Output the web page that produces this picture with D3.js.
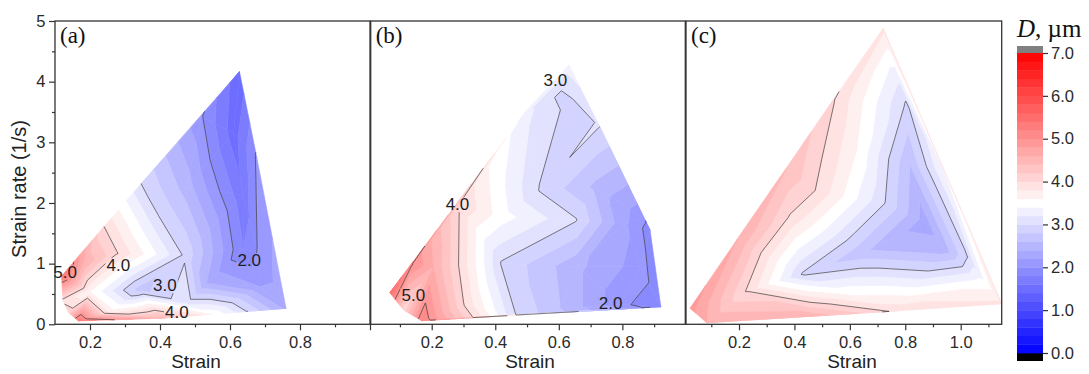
<!DOCTYPE html>
<html>
<head>
<meta charset="utf-8">
<script src="https://cdn.jsdelivr.net/npm/d3@7"></script>
<style>
  body { margin: 0; background: #fff; }
  svg { display: block; }
</style>
</head>
<body>
<svg id="chart" width="1089" height="374"></svg>
<script>
// ---- (a) grain size D (µm) at sampled (strain, strain-rate) positions ----
const strainA = [0.119, 0.238, 0.343, 0.519, 0.627, 0.676, 0.760, 0.552, 0.400, 0.167, 0.138, 0.122,
                 0.271, 0.638, 0.681, 0.610, 0.476, 0.343, 0.533, 0.200, 0.324, 0.476, 0.181, 0.257, 0.686,
                 0.637, 0.400, 0.469];
const rateA   = [0.797, 1.599, 2.297, 3.423, 4.165, 2.764, 0.264, 0.170, 0.099, 0.055, 0.198, 0.401,
                 1.170, 1.253, 1.170, 3.148, 2.269, 0.577, 0.676, 0.538, 0.319, 0.346, 1.005, 0.209, 0.621,
                 2.132, 1.802, 1.142];
const sizeA   = [5.40, 4.02, 3.02, 2.02, 1.45, 2.03, 2.35, 3.55, 4.50, 5.40, 4.10, 3.95,
                 4.05, 1.80, 2.03, 1.50, 2.50, 2.70, 2.40, 3.60, 3.45, 3.15, 4.60, 3.70, 2.20,
                 1.65, 2.97, 2.97];

// ---- (b) ----
const strainB = [0.068, 0.137, 0.284, 0.379, 0.632, 0.726, 0.868, 0.887, 0.921, 0.468, 0.168, 0.111,
                 0.500, 0.647, 0.430, 0.542, 0.716, 0.416, 0.653, 0.805, 0.205, 0.421, 0.658, 0.858,
                 0.308, 0.605, 0.795, 0.604];
const rateB   = [0.522, 0.978, 1.967, 2.599, 4.275, 3.286, 1.747, 1.555, 0.291, 0.154, 0.060, 0.236,
                 3.533, 3.533, 2.269, 2.214, 2.269, 1.775, 1.720, 1.665, 0.951, 1.005, 0.951, 0.951,
                 0.319, 0.264, 0.335, 3.780];
const sizeB   = [5.60, 5.02, 4.02, 3.60, 3.30, 3.02, 2.05, 1.90, 1.85, 2.98, 5.20, 4.05,
                 3.25, 2.90, 3.40, 2.98, 2.55, 3.50, 3.02, 2.25, 4.60, 2.97, 2.45, 2.10,
                 3.95, 2.60, 2.05, 2.95];

// ---- (c) ----
const strainC = [0.023, 0.720, 1.148, 0.083, 0.769, 0.540, 0.372, 0.192, 0.936,
                 0.805, 0.733, 0.431, 1.021, 0.871, 0.817, 0.673, 0.943,
                 0.625, 0.480, 0.384, 0.228, 0.588, 1.070, 0.468, 0.738];
const rateC   = [0.264, 4.879, 0.335, 0.027, 0.220, 3.698, 2.571, 1.390, 2.577,
                 3.635, 1.983, 0.829, 1.126, 1.687, 2.627, 1.225, 1.225,
                 2.874, 2.187, 1.775, 0.555, 0.511, 0.676, 0.137, 4.324];
const sizeC   = [4.90, 3.85, 3.85, 4.60, 3.95, 4.02, 4.40, 4.60, 3.40,
                 2.97, 2.97, 2.97, 2.97, 2.30, 2.60, 2.60, 2.50,
                 3.60, 3.98, 3.98, 3.98, 3.55, 3.50, 4.50, 3.45];

// contour labels
const labStrainA = [0.129, 0.281, 0.414, 0.655, 0.448];
const labRateA   = [0.868, 0.978, 0.648, 1.060, 0.209];
const labTextA   = ["5.0", "4.0", "3.0", "2.0", "4.0"];
const labStrainB = [0.589, 0.281, 0.142, 0.763];
const labRateB   = [4.030, 1.980, 0.484, 0.346];
const labTextB   = ["3.0", "4.0", "5.0", "2.0"];

const lineLevels = [2, 3, 4, 5];
const xTicksA = [0.2, 0.4, 0.6, 0.8], xMinorA = [0.3, 0.5, 0.7, 0.9];
const xTicksB = [0.2, 0.4, 0.6, 0.8], xMinorB = [0.1, 0.3, 0.5, 0.7, 0.9];
const xTicksC = [0.2, 0.4, 0.6, 0.8, 1.0], xMinorC = [0.1, 0.3, 0.5, 0.7, 0.9, 1.1];
const yTicks = [0, 1, 2, 3, 4, 5], yMinor = [0.5, 1.5, 2.5, 3.5, 4.5];
const barTicks = [0, 1, 2, 3, 4, 5, 6, 7];

// ---- layout ----
const svg = d3.select("#chart");
const plotTop = 21, plotBottom = 324.3;
const y = d3.scaleLinear().domain([0, 5]).range([plotBottom, plotTop]);
const bandStep = 0.2;
const bands = d3.range(0, 7 - 1e-9, bandStep);
const colour = d3.scaleLinear().domain([0, 3.5, 7]).range(["#0000ff", "#ffffff", "#ff0000"]);
const sans = "'Liberation Sans', Arial, sans-serif";
const serif = "'Liberation Serif', 'Times New Roman', serif";

const panels = [
  { key: "a", s: strainA, r: rateA, d: sizeA, dom: [0.1, 1.0], px: [55, 370],
    ticks: xTicksA, minor: xMinorA, edgeTicks: [1.0], title: 196,
    ls: labStrainA, lr: labRateA, lt: labTextA },
  { key: "b", s: strainB, r: rateB, d: sizeB, dom: [0.008, 0.998], px: [370.7, 685.3],
    ticks: xTicksB, minor: xMinorB, edgeTicks: [], title: 530,
    ls: labStrainB, lr: labRateB, lt: labTextB },
  { key: "c", s: strainC, r: rateC, d: sizeC, dom: [0.0087, 1.148], px: [686, 1001.7],
    ticks: xTicksC, minor: xMinorC, edgeTicks: [], title: 852,
    ls: [], lr: [], lt: [] }
];

// clip a polygon (vertices carry value v) to v >= lev (above) or v <= lev
function clipPoly(poly, lev, above) {
  const out = [];
  for (let i = 0; i < poly.length; i++) {
    const a = poly[i], b = poly[(i + 1) % poly.length];
    const ina = above ? a.v >= lev : a.v <= lev;
    const inb = above ? b.v >= lev : b.v <= lev;
    if (ina) out.push(a);
    if (ina !== inb) {
      const t = (lev - a.v) / (b.v - a.v);
      out.push({ x: a.x + t * (b.x - a.x), y: a.y + t * (b.y - a.y), v: lev });
    }
  }
  return out;
}

const defs = svg.append("defs");

panels.forEach(p => {
  const x = d3.scaleLinear().domain(p.dom).range(p.px);
  const pts = p.s.map((s, i) => ({ x: x(s), y: y(p.r[i]), v: p.d[i] }));
  const del = d3.Delaunay.from(pts, d => d.x, d => d.y);
  const tris = [];
  for (let i = 0; i < del.triangles.length; i += 3) {
    tris.push([pts[del.triangles[i]], pts[del.triangles[i + 1]], pts[del.triangles[i + 2]]]);
  }

  // filled bands
  const gFill = svg.append("g").attr("class", "fill-" + p.key);
  const line = d3.line().x(d => d.x).y(d => d.y);
  tris.forEach(tri => {
    const vmin = d3.min(tri, d => d.v), vmax = d3.max(tri, d => d.v);
    bands.forEach(lo => {
      const hi = lo + bandStep;
      if (vmax < lo || vmin > hi) return;
      let poly = clipPoly(tri, lo, true);
      if (poly.length < 3) return;
      poly = clipPoly(poly, hi, false);
      if (poly.length < 3) return;
      const c = colour(lo + bandStep / 2);
      gFill.append("path")
        .attr("d", line(poly) + "Z")
        .attr("fill", c).attr("stroke", c).attr("stroke-width", 0.6)
        .attr("stroke-linejoin", "round");
    });
  });

  // contour lines, broken under their labels by a mask
  const mask = defs.append("mask").attr("id", "mask-" + p.key)
    .attr("maskUnits", "userSpaceOnUse").attr("x", 0).attr("y", 0)
    .attr("width", 1089).attr("height", 374);
  mask.append("rect").attr("width", 1089).attr("height", 374).attr("fill", "#fff");

  const gLines = svg.append("g").attr("mask", "url(#mask-" + p.key + ")")
    .attr("stroke", "#3a3a3a").attr("stroke-width", 0.8).attr("fill", "none")
    .attr("stroke-opacity", 0.85);
  tris.forEach(tri => {
    lineLevels.forEach(L => {
      const seg = [];
      for (let k = 0; k < 3; k++) {
        const a = tri[k], b = tri[(k + 1) % 3];
        if ((a.v - L) * (b.v - L) < 0) {
          const t = (L - a.v) / (b.v - a.v);
          seg.push([a.x + t * (b.x - a.x), a.y + t * (b.y - a.y)]);
        }
      }
      if (seg.length === 2) {
        gLines.append("line")
          .attr("x1", seg[0][0]).attr("y1", seg[0][1])
          .attr("x2", seg[1][0]).attr("y2", seg[1][1]);
      }
    });
  });

  const gLab = svg.append("g");
  p.lt.forEach((t, i) => {
    const tx = gLab.append("text")
      .attr("x", x(p.ls[i])).attr("y", y(p.lr[i]))
      .attr("dy", "0.36em").attr("text-anchor", "middle")
      .attr("font-family", sans).attr("font-size", 17).attr("fill", "#1e1e1e")
      .text(t);
    const bb = tx.node().getBBox();
    mask.append("rect").attr("x", bb.x - 1).attr("y", bb.y + 2)
      .attr("width", bb.width + 2).attr("height", bb.height - 4).attr("fill", "#000");
  });

  // frame
  svg.append("rect").attr("x", p.px[0]).attr("y", plotTop)
    .attr("width", p.px[1] - p.px[0]).attr("height", plotBottom - plotTop)
    .attr("fill", "none").attr("stroke", "#333").attr("stroke-width", 1.3);

  // x axis
  const ax = svg.append("g").attr("transform", `translate(0,${plotBottom})`)
    .call(d3.axisBottom(x).tickValues(p.ticks).tickFormat(d3.format(".1f"))
      .tickSize(6).tickPadding(6).tickSizeOuter(0));
  ax.select(".domain").remove();
  ax.selectAll("text").attr("font-family", sans).attr("font-size", 16.5).attr("fill", "#2a2a2a");
  ax.selectAll("line").attr("stroke", "#333").attr("stroke-width", 1.2);
  const axm = svg.append("g").attr("transform", `translate(0,${plotBottom})`)
    .call(d3.axisBottom(x).tickValues(p.minor.concat(p.edgeTicks)).tickFormat("")
      .tickSize(3).tickSizeOuter(0));
  axm.select(".domain").remove();
  axm.selectAll("line").attr("stroke", "#333").attr("stroke-width", 1.2);
  axm.selectAll(".tick").filter(d => p.edgeTicks.includes(d)).select("line").attr("y2", 6);

  svg.append("text").attr("x", p.title).attr("y", 368)
    .attr("text-anchor", "middle").attr("font-family", sans).attr("font-size", 19)
    .attr("fill", "#222").text("Strain");

  svg.append("text").attr("x", p.px[0] + 5).attr("y", 43)
    .attr("font-family", serif).attr("font-size", 23).attr("fill", "#111")
    .text("(" + p.key + ")");

  if (p.key === "a") {
    const ay = svg.append("g").attr("transform", `translate(${p.px[0]},0)`)
      .call(d3.axisLeft(y).tickValues(yTicks).tickFormat(d3.format("d"))
        .tickSize(6).tickPadding(3.5).tickSizeOuter(0));
    ay.select(".domain").remove();
    ay.selectAll("text").attr("font-family", sans).attr("font-size", 16.5).attr("fill", "#2a2a2a");
    ay.selectAll("line").attr("stroke", "#333").attr("stroke-width", 1.2);
    const aym = svg.append("g").attr("transform", `translate(${p.px[0]},0)`)
      .call(d3.axisLeft(y).tickValues(yMinor).tickFormat("").tickSize(3).tickSizeOuter(0));
    aym.select(".domain").remove();
    aym.selectAll("line").attr("stroke", "#333").attr("stroke-width", 1.2);
    svg.append("text").attr("transform", "translate(26,189) rotate(-90)")
      .attr("text-anchor", "middle").attr("font-family", sans).attr("font-size", 20)
      .attr("fill", "#222").text("Strain rate (1/s)");
  }
});

// ---- colour bar ----
const barX = 1017, barW = 26;
const yBar = d3.scaleLinear().domain([0, 7]).range([353, 53]);
const gBar = svg.append("g");
gBar.append("rect").attr("x", barX).attr("y", 46).attr("width", barW).attr("height", 7).attr("fill", "#808080");
gBar.append("rect").attr("x", barX).attr("y", 353).attr("width", barW).attr("height", 8).attr("fill", "#000");
bands.forEach(lo => {
  gBar.append("rect").attr("x", barX).attr("y", yBar(lo + bandStep))
    .attr("width", barW).attr("height", yBar(lo) - yBar(lo + bandStep) + 0.4)
    .attr("fill", colour(lo + bandStep / 2));
});
const ab = svg.append("g").attr("transform", `translate(${barX + barW},0)`)
  .call(d3.axisRight(yBar).tickValues(barTicks).tickFormat(d3.format(".1f"))
    .tickSize(5).tickPadding(3).tickSizeOuter(0));
ab.select(".domain").remove();
ab.selectAll("text").attr("font-family", sans).attr("font-size", 16.5).attr("fill", "#2a2a2a");
ab.selectAll("line").attr("stroke", "#333").attr("stroke-width", 1.2);

const title = svg.append("text").attr("x", 1017).attr("y", 37)
  .attr("font-family", serif).attr("font-size", 25).attr("fill", "#111");
title.append("tspan").attr("font-style", "italic").text("D");
title.append("tspan").text(", µm");
</script>
</body>
</html>
